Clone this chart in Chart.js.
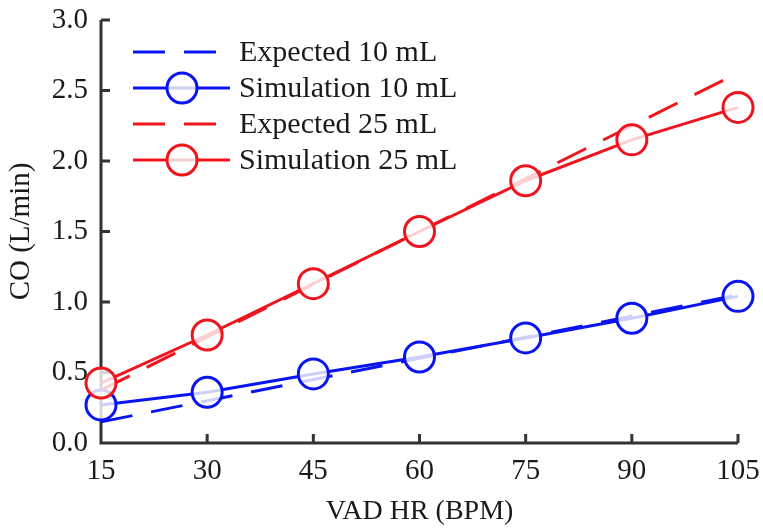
<!DOCTYPE html>
<html>
<head>
<meta charset="utf-8">
<script src="https://cdn.jsdelivr.net/npm/chart.js@4"></script>
<style>
  html, body { margin: 0; padding: 0; background: #fff; }
  #wrap { width: 763px; height: 531px; }
</style>
</head>
<body>
<div id="wrap"><canvas id="coChart" width="763" height="531"></canvas></div>
<script>
const heartRates = [15, 30, 45, 60, 75, 90, 105];
const expected10 = [0.15, 0.30, 0.45, 0.60, 0.75, 0.90, 1.05];
const simulation10 = [0.27, 0.36, 0.49, 0.61, 0.745, 0.885, 1.04];
const expected25 = [0.375, 0.75, 1.125, 1.50, 1.875, 2.25, 2.625];
const simulation25 = [0.425, 0.766, 1.13, 1.50, 1.86, 2.15, 2.38];
const seriesNames = ['Expected 10 mL', 'Simulation 10 mL', 'Expected 25 mL', 'Simulation 25 mL'];

const FONT = '"Liberation Serif", "Times New Roman", serif';
const AXIS = '#333';
const TEXT = '#1a1a1a';
const BLUE = '#0a14f0';
const RED = '#f0141e';
const DASH = [32, 19];

const pts = arr => heartRates.map((x, i) => ({ x: x, y: arr[i] }));

function dashed(label, data, color, order) {
    return {
        label, data: pts(data), borderColor: color, borderWidth: 3,
        borderDash: DASH, pointRadius: 0, fill: false, order, clip: false
    };
}
function marked(label, data, color, order) {
    return {
        label, data: pts(data), borderColor: color, borderWidth: 3,
        pointRadius: 15, pointHoverRadius: 15, pointBorderWidth: 3,
        pointBorderColor: color, pointBackgroundColor: 'rgba(255,255,255,0.8)',
        fill: false, order, clip: false
    };
}

// axis lines with inward ticks (under the data), legend on top
const extras = {
    id: 'extras',
    beforeDatasetsDraw(chart) {
        const { ctx, chartArea: a, scales: { x, y } } = chart;
        ctx.save();
        ctx.strokeStyle = AXIS;
        ctx.lineWidth = 3;
        ctx.beginPath();
        ctx.moveTo(a.left, a.top);
        ctx.lineTo(a.left, a.bottom);
        ctx.lineTo(a.right, a.bottom);
        x.ticks.forEach(t => {
            const px = x.getPixelForValue(t.value);
            ctx.moveTo(px, a.bottom);
            ctx.lineTo(px, a.bottom - 9);
        });
        y.ticks.forEach(t => {
            const py = y.getPixelForValue(t.value);
            ctx.moveTo(a.left, py);
            ctx.lineTo(a.left + 9, py);
        });
        ctx.stroke();
        ctx.restore();
    },
    afterDatasetsDraw(chart) {
        const ctx = chart.ctx;
        ctx.save();
        const rows = [52, 88, 124, 160];
        chart.data.datasets.forEach((ds, i) => {
            const yy = rows[i];
            ctx.strokeStyle = ds.borderColor;
            ctx.lineWidth = 3;
            ctx.setLineDash(ds.borderDash || []);
            ctx.beginPath();
            ctx.moveTo(133, yy);
            ctx.lineTo(ds.borderDash ? 216 : 230, yy);
            ctx.stroke();
            ctx.setLineDash([]);
            if (ds.pointRadius) {
                ctx.beginPath();
                ctx.arc(182, yy, 15, 0, Math.PI * 2);
                ctx.fillStyle = 'rgba(255,255,255,0.8)';
                ctx.fill();
                ctx.stroke();
            }
            ctx.fillStyle = TEXT;
            ctx.font = '30px ' + FONT;
            ctx.textBaseline = 'middle';
            ctx.textAlign = 'left';
            ctx.fillText(ds.label, 239, yy + 1);
        });
        ctx.restore();
    }
};

new Chart(document.getElementById('coChart'), {
    type: 'line',
    data: {
        datasets: [
            dashed(seriesNames[0], expected10, BLUE, 3),
            marked(seriesNames[1], simulation10, BLUE, 2),
            dashed(seriesNames[2], expected25, RED, 1),
            marked(seriesNames[3], simulation25, RED, 0)
        ]
    },
    options: {
        responsive: false,
        animation: false,
        layout: { padding: { top: 20, right: 25, left: 0, bottom: 0 } },
        plugins: { legend: { display: false }, tooltip: { enabled: false } },
        scales: {
            x: {
                type: 'linear', min: 15, max: 105,
                afterFit: s => { s.height = 88; s.paddingLeft = 0; s.paddingRight = 0; },
                border: { display: false },
                grid: { display: false, drawTicks: false },
                ticks: { stepSize: 15, padding: 11, color: TEXT, maxRotation: 0,
                         font: { family: FONT, size: 29 } },
                title: { display: true, text: 'VAD HR (BPM)', color: TEXT, padding: { top: 0, bottom: 3 },
                         font: { family: FONT, size: 28 } }
            },
            y: {
                min: 0, max: 3,
                afterFit: s => { s.width = 101; s.paddingTop = 0; s.paddingBottom = 0; },
                border: { display: false },
                grid: { display: false, drawTicks: false },
                ticks: { stepSize: 0.5, padding: 13, color: TEXT, font: { family: FONT, size: 29 },
                         callback: v => v.toFixed(1) },
                title: { display: true, text: 'CO (L/min)', color: TEXT, padding: { top: 4, bottom: 0 },
                         font: { family: FONT, size: 29 } }
            }
        }
    },
    plugins: [extras]
});
</script>
</body>
</html>
